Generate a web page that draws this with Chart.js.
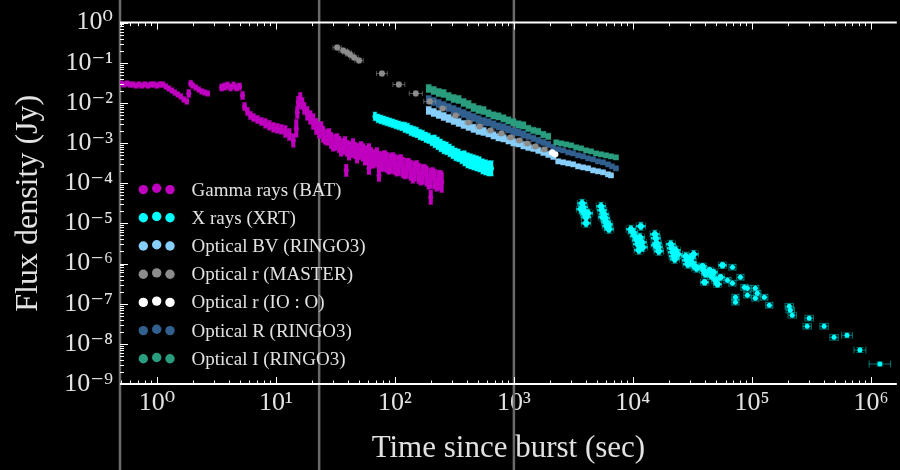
<!DOCTYPE html>
<html><head><meta charset="utf-8">
<script src="https://cdn.jsdelivr.net/npm/chart.js@4.4.1/dist/chart.umd.min.js"></script>
<style>html,body{margin:0;padding:0;background:#000;}canvas{display:block;}</style>
</head><body>
<canvas id="c" width="900" height="470"></canvas>
<script>
// ---------------- DATA ----------------
const seriesLabels = ['Gamma rays (BAT)', 'X rays (XRT)', 'Optical BV (RINGO3)', 'Optical r (MASTER)', 'Optical r (IO : O)', 'Optical R (RINGO3)', 'Optical I (RINGO3)'];
const seriesColors = ['#bf00bf', '#00ffff', '#87cefa', '#8c8c8c', '#ffffff', '#31608f', '#2a9d7f'];
const xTickLabels = ['10⁰', '10¹', '10²', '10³', '10⁴', '10⁵', '10⁶'];   // exponents 0..6
const yTickLabels = ['10⁻⁹', '10⁻⁸', '10⁻⁷', '10⁻⁶', '10⁻⁵', '10⁻⁴', '10⁻³', '10⁻²', '10⁻¹', '10⁰']; // exponents -9..0
const markerTimes = [0.49, 23.1, 1000];
const xRange = [0.49, 1.65e6];
const yRange = [1e-9, 1];

// Gamma rays (BAT): time (s), flux (Jy), error (dex)
const batTime = [0.500,0.529,0.561,0.594,0.630,0.667,0.707,0.749,0.794,0.841,0.891,0.944,1.000,1.060,1.123,1.190,1.261,1.336,1.415,1.500,1.589,1.683,1.784,1.854,1.926,2.002,2.121,2.247,2.381,2.523,2.673,
3.499,3.707,3.928,4.162,4.410,4.672,4.950,5.245,5.450,5.774,6.118,6.482,7.000,7.560,8.167,8.823,9.530,10.29,11.12,12.01,12.97,14.01,14.84,15.43,16.03,16.66,17.32,18.35,19.45,20.60,21.83,
23.12,24.98,26.98,29.14,31.47,34.00,36.72,39.66,42.84,46.26,49.97,53.98,58.30,62.97,68.02,73.47,79.35,85.70,92.57,99.98,108.0,116.7,126.0,136.1,147.0,158.8,171.5,185.2,200.1,216.1,233.4,247.3,
24.03,25.96,28.04,30.28,32.71,35.33,38.16,41.21,44.51,48.08,51.93,56.09,60.58,65.44,70.68,76.35,82.46,89.06,96.21,103.9,112.2,121.2,130.9,141.4,152.8,165.0,178.2,192.5,207.9,224.6,242.6,
15.13,39.0,60.6,73.5,200.1];
const batFlux = [0.0304,0.0287,0.0304,0.0287,0.0287,0.0271,0.0287,0.0271,0.0287,0.0271,0.0287,0.0287,0.0271,0.0287,0.0287,0.0256,0.0229,0.0204,0.0182,0.0162,0.0145,0.0122,0.0109,0.0172,0.0304,0.0271,0.0242,0.0216,0.0193,0.0182,0.0172,
0.0242,0.0256,0.0271,0.0242,0.0271,0.0242,0.0256,0.0153,0.00816,0.00613,0.00488,0.00435,0.00388,0.00346,0.00309,0.00275,0.00246,0.00232,0.00219,0.00195,0.00164,0.00116,0.00232,0.0103,0.0129,0.00969,0.00728,0.00547,0.00435,0.00346,0.00260,
0.00207,0.00164,0.00139,0.00116,0.00104,0.000927,0.000826,0.000737,0.000696,0.000657,0.000621,0.000586,0.000523,0.000466,0.000416,0.000371,0.000350,0.000331,0.000312,0.000295,0.000278,0.000248,0.000235,0.000209,0.000198,0.000176,0.000167,0.000149,0.000132,0.000125,0.000118,0.000105,
0.00260,0.00123,0.00174,0.000826,0.00131,0.000621,0.00110,0.000494,0.000981,0.000416,0.000826,0.000371,0.000737,0.000312,0.000586,0.000263,0.000494,0.000222,0.000440,0.000198,0.000393,0.000167,0.000312,0.000132,0.000278,0.000118,0.000222,0.0000936,0.000187,0.0000835,0.000157,
0.00579,0.000209,0.000234,0.000157,0.0000446];
const batErr = [0.07,0.07,0.07,0.07,0.07,0.07,0.07,0.07,0.07,0.07,0.07,0.07,0.07,0.07,0.07,0.07,0.07,0.07,0.07,0.07,0.07,0.07,0.07,0.1,0.08,0.07,0.07,0.07,0.07,0.07,0.07,
0.09,0.09,0.09,0.09,0.09,0.09,0.09,0.1,0.1,0.1,0.1,0.1,0.1,0.1,0.12,0.12,0.12,0.12,0.12,0.15,0.15,0.17,0.22,0.15,0.15,0.15,0.15,0.17,0.17,0.2,0.2,
0.2,0.2,0.2,0.2,0.2,0.2,0.2,0.2,0.2,0.2,0.2,0.22,0.22,0.22,0.22,0.22,0.25,0.25,0.25,0.25,0.25,0.25,0.25,0.25,0.25,0.25,0.25,0.25,0.25,0.25,0.25,0.25,
0.12,0.12,0.12,0.12,0.12,0.12,0.12,0.12,0.12,0.12,0.12,0.12,0.12,0.12,0.12,0.12,0.12,0.12,0.12,0.12,0.12,0.12,0.12,0.12,0.12,0.12,0.12,0.12,0.12,0.12,0.12,
0.15,0.15,0.15,0.15,0.18];

// X rays (XRT) early window
const xrtEarlyTime = [68.02,72.06,76.35,80.90,85.70,90.80,96.21,101.9,108.0,114.4,121.2,128.5,136.1,144.2,152.8,161.9,171.5,181.7,192.5,204.0,216.1,229.0,242.6,257.0,272.4,288.6,305.8,324.0,343.3,363.7,385.4,408.3,432.6,458.3,485.6,514.5,545.1,577.6,611.9,648.3];
const xrtEarlyFlux = [0.00460,0.00411,0.00388,0.00366,0.00346,0.00327,0.00309,0.00291,0.00275,0.00260,0.00246,0.00232,0.00207,0.00195,0.00184,0.00164,0.00155,0.00139,0.00131,0.00116,0.00110,0.000981,0.000875,0.000780,0.000737,0.000657,0.000586,0.000523,0.000494,0.000440,0.000416,0.000371,0.000350,0.000331,0.000312,0.000295,0.000263,0.000248,0.000235,0.000235];
const xrtEarlyErr = [0.11,0.11,0.11,0.11,0.11,0.11,0.11,0.11,0.11,0.11,0.13,0.13,0.13,0.13,0.13,0.13,0.13,0.13,0.13,0.13,0.16,0.16,0.16,0.16,0.16,0.16,0.16,0.16,0.16,0.16,0.19,0.19,0.19,0.19,0.19,0.19,0.19,0.19,0.19,0.19];
// X rays (XRT) late windows: grouped orbits
const xrtClusterTime = [3742,3815,3889,3965,4042,4042,3672,4201, 5397,5502,5718,5829,5943,6058,6296,5609,6176, 9621,9998,10390,10800,11010,11660,11440,11890,12120,11220, 15280,15570,15870,16190,16500,15570, 20790,21200,21610,22030,22460,22890,23790, 27760,28300,28850,30570,31160,32390,33010,34310, 38530,39270,40810,40030,44090,45810,47610,49470,51430,54490,56620];
const xrtClusterFlux = [3.16e-5,2.51e-5,2.00e-5,1.68e-5,1.42e-5,1.01e-5,2.24e-5,1.78e-5, 2.66e-5,2.12e-5,1.68e-5,1.34e-5,1.07e-5,8.47e-6,7.13e-6,1.42e-5,9.50e-6, 7.13e-6,6.01e-6,4.78e-6,3.80e-6,3.02e-6,8.47e-6,4.51e-6,3.39e-6,2.54e-6,2.14e-6, 5.36e-6,4.26e-6,3.20e-6,2.54e-6,2.02e-6,2.85e-6, 3.02e-6,2.40e-6,1.91e-6,1.52e-6,1.28e-6,2.14e-6,1.70e-6, 1.52e-6,1.21e-6,9.60e-7,1.35e-6,1.08e-6,1.70e-6,8.56e-7,7.64e-7, 8.56e-7,6.81e-7,5.42e-7,3.43e-7,6.81e-7,4.83e-7,6.08e-7,3.84e-7,3.06e-7,4.56e-7,9.07e-7];
const xrtClusterErrY = [0.1,0.1,0.1,0.1,0.1,0.1,0.1,0.1, 0.1,0.1,0.1,0.1,0.1,0.1,0.1,0.1,0.1, 0.1,0.1,0.1,0.1,0.1,0.1,0.1,0.1,0.1,0.1, 0.1,0.1,0.1,0.1,0.1,0.1, 0.1,0.1,0.1,0.1,0.1,0.1,0.1, 0.1,0.1,0.1,0.1,0.1,0.1,0.1,0.1, 0.08,0.08,0.08,0.08,0.08,0.08,0.08,0.08,0.08,0.08,0.08];
const xrtClusterErrX = [0.04,0.04,0.04,0.04,0.04,0.04,0.04,0.04, 0.04,0.04,0.04,0.04,0.04,0.04,0.04,0.04,0.04, 0.04,0.04,0.04,0.04,0.04,0.04,0.04,0.04,0.04,0.04, 0.04,0.04,0.04,0.04,0.04,0.04, 0.04,0.04,0.04,0.04,0.04,0.04,0.04, 0.04,0.04,0.04,0.04,0.04,0.04,0.04,0.04, 0.035,0.035,0.035,0.035,0.035,0.035,0.035,0.035,0.035,0.035,0.035];
// X rays (XRT) late single points
const xrtSingleTime = [62350,68660,68660,72740,72740,80090,86510,91660,91660,106900,111100,106900,127200,140100,205900,209900,218200,302800,291200,404200,490000,629500,808500,1189000];
const xrtSingleFlux = [3.84e-7,8.09e-7,3.24e-7,1.45e-7,1.09e-7,4.56e-7,2.57e-7,2.43e-7,1.63e-7,2.43e-7,1.82e-7,1.37e-7,1.45e-7,9.16e-8,8.65e-8,6.91e-8,5.18e-8,4.37e-8,2.74e-8,2.74e-8,1.45e-8,1.63e-8,7.00e-9,3.14e-9];
const xrtSingleErrY = [0.07,0.07,0.07,0.07,0.07,0.07,0.07,0.07,0.07,0.07,0.07,0.07,0.07,0.07,0.07,0.07,0.07,0.07,0.07,0.07,0.07,0.06,0.06,0.05];
const xrtSingleErrX = [0.03,0.03,0.03,0.03,0.03,0.03,0.03,0.03,0.03,0.03,0.03,0.03,0.03,0.03,0.035,0.035,0.035,0.035,0.035,0.035,0.035,0.045,0.05,0.09];

// Optical BV (RINGO3)
const bvTime = [192.5,212.0,233.4,257.0,282.9,311.6,343.3,377.8,416.1,458.2,504.5,555.6,611.9,673.7,741.9,816.9,899.5,990.5,1091,1201,1322,1456,1603,1766,1944,2141, 2357,2595,2858,3147,3465,3815,4201,4626,5093,5609,6176,6543];
const bvFlux = [0.00649,0.00579,0.00516,0.00460,0.00411,0.00366,0.00327,0.00291,0.00260,0.00232,0.00207,0.00195,0.00174,0.00155,0.00139,0.00131,0.00116,0.00104,0.000981,0.000875,0.000780,0.000737,0.000657,0.000586,0.000523,0.000466, 0.000350,0.000331,0.000312,0.000295,0.000263,0.000248,0.000235,0.000209,0.000198,0.000187,0.000167,0.000157];
const bvErr = [0.1,0.1,0.1,0.1,0.1,0.1,0.1,0.1,0.1,0.1,0.1,0.1,0.09,0.09,0.09,0.09,0.09,0.09,0.09,0.09,0.08,0.08,0.08,0.08,0.08,0.08, 0.065,0.065,0.065,0.065,0.065,0.065,0.065,0.065,0.065,0.065,0.065,0.065];

// Optical r (MASTER)
const masterTime = [32.71,36.72,39.66,42.02,45.39,49.97,77.86,108.0,149.9,196.3,252.1,324.0,416.1,514.5,635.9,785.8,934.6,1111,1297,1513,1799];
const masterFlux = [0.239,0.201,0.180,0.160,0.135,0.114,0.0540,0.0287,0.0172,0.0109,0.00728,0.00488,0.00326,0.00260,0.00207,0.00174,0.00138,0.00116,0.000981,0.000823,0.000696];
const masterErrY = [0.06,0.06,0.06,0.06,0.06,0.06,0.06,0.06,0.06,0.06,0.05,0.05,0.05,0.05,0.05,0.05,0.05,0.05,0.05,0.05,0.05];
const masterErrX = [0.035,0.035,0.035,0.035,0.035,0.035,0.045,0.05,0.055,0.05,0.03,0.03,0.03,0.03,0.03,0.03,0.03,0.03,0.03,0.03,0.03];

// Optical r (IO:O)
const ioTime = [2100, 2224];
const ioFlux = [0.000586, 0.000523];
const ioErr = [0.03, 0.03];

// Optical R (RINGO3)
const rTime = [192.5,212.0,233.4,257.0,282.9,311.6,343.3,377.8,416.1,458.2,504.5,555.6,611.9,673.7,741.9,816.9,899.5,990.5,1091,1201,1322,1456,1603,1766,1944,2141, 2357,2595,2858,3147,3465,3815,4201,4626,5093,5609,6176,6673,7206];
const rFlux = [0.0122,0.0109,0.00969,0.00864,0.00771,0.00687,0.00613,0.00547,0.00488,0.00435,0.00388,0.00346,0.00327,0.00291,0.00260,0.00246,0.00219,0.00195,0.00184,0.00164,0.00147,0.00131,0.00116,0.00104,0.000927,0.000780, 0.000696,0.000657,0.000586,0.000553,0.000494,0.000466,0.000416,0.000393,0.000350,0.000331,0.000295,0.000263,0.000235];
const rErr = [0.1,0.1,0.1,0.1,0.1,0.1,0.1,0.1,0.1,0.1,0.1,0.1,0.09,0.09,0.09,0.09,0.09,0.09,0.09,0.09,0.08,0.08,0.08,0.08,0.08,0.08, 0.065,0.065,0.065,0.065,0.065,0.065,0.065,0.065,0.065,0.065,0.065,0.065,0.065];

// Optical I (RINGO3)
const iTime = [192.5,212.0,233.4,257.0,282.9,311.6,343.3,377.8,416.1,458.2,504.5,555.6,611.9,673.7,741.9,816.9,899.5,990.5,1091,1201,1322,1456,1603,1766,1944, 2268,2497,2750,3028,3334,3672,4042,4451,4901,5397,5943,6543,7206];
const iFlux = [0.0229,0.0204,0.0182,0.0172,0.0145,0.0129,0.0122,0.0103,0.00915,0.00771,0.00687,0.00649,0.00547,0.00488,0.00460,0.00411,0.00366,0.00327,0.00291,0.00275,0.00232,0.00207,0.00195,0.00164,0.00147, 0.00104,0.000981,0.000927,0.000875,0.000780,0.000737,0.000657,0.000621,0.000553,0.000523,0.000494,0.000466,0.000440];
const iErr = [0.1,0.1,0.1,0.1,0.1,0.1,0.1,0.1,0.1,0.1,0.1,0.1,0.09,0.09,0.09,0.09,0.09,0.09,0.09,0.09,0.08,0.08,0.08,0.08,0.08, 0.065,0.065,0.065,0.065,0.065,0.065,0.065,0.065,0.065,0.065,0.065,0.065,0.065];

// ---------------- CHART ----------------
const SERIF = '"Liberation Serif", "DejaVu Serif", serif';
const TXT = '#e2e2e2';

function pts(t, f) { return t.map((v, i) => ({ x: v, y: f[i] })); }
function rgba(hex, a) {
  const n = parseInt(hex.slice(1), 16);
  return `rgba(${(n >> 16) & 255},${(n >> 8) & 255},${n & 255},${a})`;
}
function mkSet(idx, t, f, errY, errX, style) {
  const c = seriesColors[idx];
  return Object.assign({
    label: seriesLabels[idx],
    data: pts(t, f),
    errY: errY, errX: errX,
    legendColor: c,
    inLegend: true,
    backgroundColor: c,
    borderColor: c,
    pointBackgroundColor: c,
    pointBorderWidth: 0,
    pointRadius: 2.5,
    pointHoverRadius: 2.5,
    errColor: rgba(c, 1),
    capColor: rgba(c, 0.45),
    errWidth: 1,
    errXWidth: 1.5,
    capSize: 2.5
  }, style);
}

const datasets = [
  mkSet(0, batTime, batFlux, batErr, null, { order: 8, errWidth: 4 }),
  mkSet(1, xrtEarlyTime, xrtEarlyFlux, xrtEarlyErr, null, { order: 7, errWidth: 3.5 }),
  mkSet(2, bvTime, bvFlux, bvErr, null, { order: 3, errWidth: 5.5, capSize: 3 }),
  mkSet(3, masterTime, masterFlux, masterErrY, masterErrX, { order: 1, pointRadius: 3, errColor: rgba(seriesColors[3], 0.6), capColor: rgba(seriesColors[3], 0.6), errXWidth: 1 }),
  mkSet(4, ioTime, ioFlux, ioErr, null, { order: 0, pointRadius: 3.2 }),
  mkSet(5, rTime, rFlux, rErr, null, { order: 4, errWidth: 5.5, capSize: 3 }),
  mkSet(6, iTime, iFlux, iErr, null, { order: 2, errWidth: 5.5, capSize: 3 }),
  mkSet(1, xrtClusterTime, xrtClusterFlux, xrtClusterErrY, xrtClusterErrX, { order: 6, inLegend: false, pointRadius: 3, errWidth: 3.5, errXWidth: 2.5, errColor: rgba(seriesColors[1], 0.75), capColor: rgba(seriesColors[1], 0.35), capSize: 3.5 }),
  mkSet(1, xrtSingleTime, xrtSingleFlux, xrtSingleErrY, xrtSingleErrX, { order: 5, inLegend: false, errWidth: 1, errXWidth: 1, errColor: rgba(seriesColors[1], 0.45), capColor: rgba(seriesColors[1], 0.45), capSize: 3.5 })
];

function buildTicks(minE, maxE, lo, hi) {
  const out = [];
  for (let e = minE; e <= maxE; e++) {
    for (let d = 1; d <= 9; d++) {
      const v = d * Math.pow(10, e);
      if (v >= lo * 0.9999 && v <= hi * 1.0001) out.push({ value: v, major: d === 1 });
    }
  }
  return out;
}
function labelFor(v, labels, minE) {
  const e = Math.round(Math.log10(v));
  if (Math.abs(v / Math.pow(10, e) - 1) < 1e-6) return labels[e - minE] || '';
  return '';
}

const errorBars = {
  id: 'errorBars',
  beforeDatasetDraw(chart, args) {
    const ds = chart.data.datasets[args.index];
    if (!ds.errY) return;
    const { ctx, chartArea: a, scales: { x: xs, y: ys } } = chart;
    ctx.save();
    ctx.beginPath();
    ctx.rect(a.left, a.top, a.right - a.left, a.bottom - a.top);
    ctx.clip();
    const cap = ds.capSize;
    ds.data.forEach((p, i) => {
      const px = xs.getPixelForValue(p.x), py = ys.getPixelForValue(p.y);
      const k = Math.pow(10, ds.errY[i] || 0);
      const yT = ys.getPixelForValue(p.y * k), yB = ys.getPixelForValue(p.y / k);
      ctx.strokeStyle = ds.errColor; ctx.lineWidth = ds.errWidth;
      ctx.beginPath(); ctx.moveTo(px, yT); ctx.lineTo(px, yB);
      ctx.stroke();
      const ex = ds.errX ? (ds.errX[i] || 0) : 0;
      let xL = 0, xR = 0;
      if (ex > 0) {
        const kx = Math.pow(10, ex);
        xL = xs.getPixelForValue(p.x / kx); xR = xs.getPixelForValue(p.x * kx);
        ctx.lineWidth = ds.errXWidth;
        ctx.beginPath(); ctx.moveTo(xL, py); ctx.lineTo(xR, py); ctx.stroke();
      }
      ctx.strokeStyle = ds.capColor; ctx.lineWidth = 1;
      ctx.beginPath();
      ctx.moveTo(px - cap, yT); ctx.lineTo(px + cap, yT);
      ctx.moveTo(px - cap, yB); ctx.lineTo(px + cap, yB);
      if (ex > 0) {
        ctx.moveTo(xL, py - cap); ctx.lineTo(xL, py + cap);
        ctx.moveTo(xR, py - cap); ctx.lineTo(xR, py + cap);
      }
      ctx.stroke();
    });
    ctx.restore();
  }
};

const markerLines = {
  id: 'markerLines',
  beforeDatasetsDraw(chart) {
    const { ctx, scales: { x } } = chart;
    ctx.save();
    ctx.strokeStyle = '#6a6a6a';
    ctx.lineWidth = 2.5;
    markerTimes.forEach(t => {
      const px = x.getPixelForValue(t);
      ctx.beginPath(); ctx.moveTo(px, 0); ctx.lineTo(px, chart.height); ctx.stroke();
    });
    ctx.restore();
  }
};

const frame = {
  id: 'frame',
  afterDatasetsDraw(chart) {
    const { ctx, chartArea: a, scales: { x, y } } = chart;
    ctx.save();
    ctx.strokeStyle = '#ffffff';
    ctx.lineWidth = 2;
    ctx.beginPath();
    ctx.moveTo(a.left, a.top); ctx.lineTo(a.right, a.top);
    ctx.moveTo(a.left, a.bottom); ctx.lineTo(a.right, a.bottom);
    ctx.stroke();
    ctx.lineWidth = 1;
    ctx.beginPath();
    x.ticks.forEach(t => {
      const px = Math.round(x.getPixelForValue(t.value)) + 0.5;
      const len = t.major ? 7 : 3.5;
      ctx.moveTo(px, a.top); ctx.lineTo(px, a.top + len);
      ctx.moveTo(px, a.bottom); ctx.lineTo(px, a.bottom - len);
    });
    y.ticks.forEach(t => {
      const py = Math.round(y.getPixelForValue(t.value)) + 0.5;
      const len = t.major ? 8 : 4;
      ctx.moveTo(a.left, py); ctx.lineTo(a.left + len, py);
    });
    ctx.stroke();
    ctx.restore();
  }
};

const dotLegend = {
  id: 'dotLegend',
  afterDraw(chart) {
    const { ctx, chartArea: a } = chart;
    ctx.save();
    ctx.font = '19px ' + SERIF;
    ctx.textBaseline = 'middle';
    ctx.textAlign = 'left';
    chart.data.datasets.filter(ds => ds.inLegend).forEach((ds, i) => {
      const yy = a.top + 167 + i * 28.2;
      [[23.3, 0], [36.7, -1.3], [50, 0]].forEach(([dx, dy]) => {
        ctx.beginPath();
        ctx.arc(a.left + dx, yy + dy, 4.7, 0, Math.PI * 2);
        ctx.fillStyle = ds.legendColor;
        ctx.fill();
      });
      ctx.fillStyle = TXT;
      ctx.fillText(ds.label, a.left + 71.5, yy + 1);
    });
    ctx.restore();
  }
};

new Chart(document.getElementById('c'), {
  type: 'scatter',
  data: { datasets: datasets },
  options: {
    responsive: false,
    animation: false,
    devicePixelRatio: 1,
    events: [],
    layout: { padding: { left: 0, top: 22, right: 0, bottom: 0 } },
    plugins: { legend: { display: false }, tooltip: { enabled: false } },
    scales: {
      x: {
        type: 'logarithmic', position: 'bottom', min: xRange[0], max: xRange[1], bounds: 'data',
        grid: { display: false, drawTicks: false }, border: { display: false },
        afterBuildTicks: s => { s.ticks = buildTicks(-1, 6, xRange[0], xRange[1]); },
        afterFit: s => { s.height = 86; },
        ticks: { autoSkip: false, maxRotation: 0, minRotation: 0, padding: 4, color: TXT,
          font: { family: SERIF, size: 26 }, callback: v => labelFor(v, xTickLabels, 0) },
        title: { display: true, text: 'Time since burst (sec)', color: TXT,
          font: { family: SERIF, size: 31 }, padding: { top: 0, bottom: 3 } }
      },
      y: {
        type: 'logarithmic', position: 'left', min: yRange[0], max: yRange[1], bounds: 'data',
        grid: { display: false, drawTicks: false }, border: { display: false },
        afterBuildTicks: s => { s.ticks = buildTicks(-9, 0, yRange[0], yRange[1]); },
        afterFit: s => { s.width = 120; },
        ticks: { autoSkip: false, padding: 7, color: TXT,
          font: { family: SERIF, size: 26 }, callback: v => labelFor(v, yTickLabels, -9) },
        title: { display: true, text: 'Flux density (Jy)', color: TXT,
          font: { family: SERIF, size: 32 }, padding: { top: 9, bottom: 0 } }
      }
    }
  },
  plugins: [markerLines, errorBars, frame, dotLegend]
});
</script>
</body></html>
